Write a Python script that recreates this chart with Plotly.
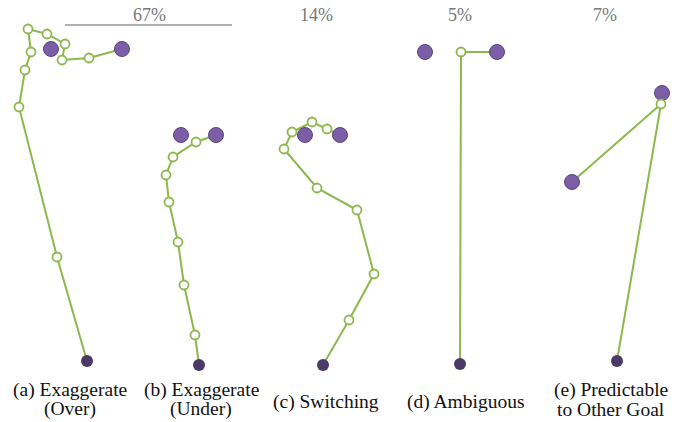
import plotly.graph_objects as go

# Trajectories (start -> waypoints -> end), in picture units
panel_a_x = [87, 57, 19, 25, 31, 28, 47, 65, 62, 89, 122]
panel_a_y = [361, 257, 107, 70, 52, 29, 34, 44, 60, 58, 49]
panel_a_goals_x = [51, 122]
panel_a_goals_y = [49, 49]

panel_b_x = [199, 195, 184, 178, 169, 166, 173, 196, 216]
panel_b_y = [365, 335, 285, 242, 202, 175, 157, 142, 135]
panel_b_goals_x = [181, 216]
panel_b_goals_y = [135, 135]

panel_c_x = [323, 349, 374, 357, 317, 284, 292, 312, 327, 340]
panel_c_y = [365, 320, 274, 210, 188, 149, 132, 122, 129, 135]
panel_c_goals_x = [305, 340]
panel_c_goals_y = [135, 135]

panel_d_x = [460, 461, 497]
panel_d_y = [364, 52, 52]
panel_d_goals_x = [425, 497]
panel_d_goals_y = [52, 52]

panel_e_x = [617, 661, 572]
panel_e_y = [361, 104, 182]
panel_e_goals_x = [662, 572]
panel_e_goals_y = [93, 182]

percent_labels = ["67%", "14%", "5%", "7%"]
percent_x = [149, 316, 460, 605]
percent_y = [15, 15, 15, 15]

# panel captions, one entry per text line
caption_lines = ["(a) Exaggerate", "(Over)", "(b) Exaggerate", "(Under)", "(c) Switching",
                 "(d) Ambiguous", "(e) Predictable", "to Other Goal"]
caption_x = [70, 70, 201, 201, 326, 466, 611, 611]
caption_y = [390, 409, 390, 409, 402, 402, 390, 409]

GREEN = "#8db84e"
GOAL = "#7c5ea6"
GOAL_EDGE = "#5a4380"
START = "#4b3a68"

panels = [
    (panel_a_x, panel_a_y, panel_a_goals_x, panel_a_goals_y),
    (panel_b_x, panel_b_y, panel_b_goals_x, panel_b_goals_y),
    (panel_c_x, panel_c_y, panel_c_goals_x, panel_c_goals_y),
    (panel_d_x, panel_d_y, panel_d_goals_x, panel_d_goals_y),
    (panel_e_x, panel_e_y, panel_e_goals_x, panel_e_goals_y),
]

fig = go.Figure()
for px, py, gx, gy in panels:
    fig.add_trace(go.Scatter(x=px, y=py, mode="lines",
                             line=dict(color=GREEN, width=2), hoverinfo="skip"))
    fig.add_trace(go.Scatter(x=gx, y=gy, mode="markers",
                             marker=dict(size=15, color=GOAL, line=dict(color=GOAL_EDGE, width=1))))
    wx = px[1:-1]
    wy = py[1:-1]
    fig.add_trace(go.Scatter(x=wx, y=wy, mode="markers",
                             marker=dict(size=9, color="white", line=dict(color=GREEN, width=1.8))))
    fig.add_trace(go.Scatter(x=[px[0]], y=[py[0]], mode="markers",
                             marker=dict(size=12, color=START, line=dict(width=0))))

FONT = "Liberation Serif"
for t, x, y in zip(percent_labels, percent_x, percent_y):
    fig.add_annotation(x=x, y=y, text=t, showarrow=False,
                       font=dict(family=FONT, size=18, color="#777777"),
                       xanchor="center", yanchor="middle")
for t, x, y in zip(caption_lines, caption_x, caption_y):
    fig.add_annotation(x=x, y=y, text=t, showarrow=False,
                       font=dict(family=FONT, size=19.5, color="#111111"),
                       xanchor="center", yanchor="middle")

fig.add_shape(type="line", x0=65, x1=232, y0=25, y1=25,
              line=dict(color="#999999", width=1.5))

fig.update_layout(
    width=684, height=422, autosize=False,
    margin=dict(l=0, r=0, t=0, b=0),
    plot_bgcolor="white", paper_bgcolor="white",
    showlegend=False,
    xaxis=dict(range=[0, 684], visible=False, fixedrange=True),
    yaxis=dict(range=[422, 0], visible=False, fixedrange=True),
)
fig.write_html("out.html", config={"displayModeBar": False},
               post_script="document.body.style.margin='0';document.body.style.overflow='hidden';")
